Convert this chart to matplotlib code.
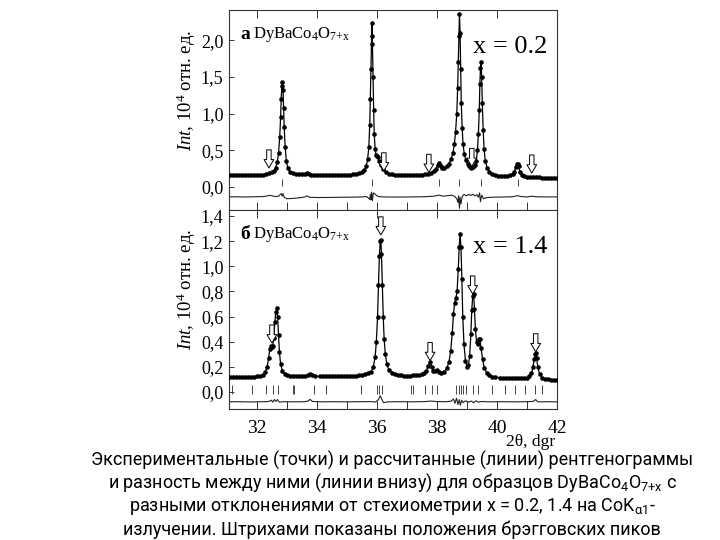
import numpy as np
import matplotlib
matplotlib.use("Agg")
import matplotlib.pyplot as plt
from matplotlib import font_manager
from matplotlib.ticker import FuncFormatter, MultipleLocator

# --- шрифты ---
names = {f.name for f in font_manager.fontManager.ttflist}
cap_font = 'Roboto' if 'Roboto' in names else 'Liberation Sans'
plt.rcParams['font.family'] = ['Liberation Serif', 'DejaVu Serif']
plt.rcParams['mathtext.fontset'] = 'custom'
plt.rcParams['mathtext.rm'] = 'Liberation Serif'
plt.rcParams['mathtext.it'] = 'Liberation Serif:italic'
plt.rcParams['mathtext.bf'] = 'Liberation Serif:bold'
plt.rcParams['mathtext.sf'] = cap_font

# --- данные: панель а (x = 0.2), (2theta, Int) ---
scan_a = [(31.1, .165), (31.2, .163), (31.3, .166), (31.4, .162), (31.5, .164), (31.6, .161),
          (31.7, .163), (31.8, .162), (31.9, .164), (32.0, .165), (32.1, .167), (32.2, .17),
          (32.3, .176), (32.4, .186), (32.5, .2), (32.56, .22), (32.62, .26), (32.68, .34),
          (32.72, .46), (32.76, .68), (32.79, .95), (32.81, 1.2), (32.83, 1.38), (32.85, 1.43),
          (32.87, 1.32), (32.89, 1.08), (32.91, .82), (32.94, .55), (32.98, .36), (33.03, .26),
          (33.1, .21), (33.2, .185), (33.3, .176), (33.4, .172), (33.5, .172), (33.6, .18),
          (33.66, .19), (33.72, .18), (33.8, .17), (33.9, .166), (34.0, .163), (34.1, .162),
          (34.2, .16), (34.3, .161), (34.4, .16), (34.5, .159), (34.6, .16), (34.7, .161),
          (34.8, .162), (34.9, .163), (35.0, .165), (35.1, .167), (35.2, .171), (35.3, .176),
          (35.4, .186), (35.5, .2), (35.58, .23), (35.64, .28), (35.69, .38), (35.73, .55),
          (35.76, .85), (35.78, 1.2), (35.80, 1.6), (35.82, 2.05), (35.83, 2.23), (35.85, 1.95),
          (35.87, 1.5), (35.89, 1.05), (35.91, .72), (35.94, .52), (35.97, .44), (36.0, .42),
          (36.03, .41), (36.07, .36), (36.12, .3), (36.2, .24), (36.3, .2), (36.4, .182),
          (36.5, .172), (36.6, .166), (36.7, .163), (36.8, .16), (36.9, .16), (37.0, .159),
          (37.1, .16), (37.2, .161), (37.3, .163), (37.4, .166), (37.5, .17), (37.6, .175),
          (37.7, .183), (37.8, .195), (37.9, .215), (37.98, .25), (38.03, .3), (38.08, .33),
          (38.13, .29), (38.18, .255), (38.25, .26), (38.33, .28), (38.4, .32), (38.47, .38),
          (38.53, .46), (38.58, .58), (38.62, .75), (38.66, 1.0), (38.69, 1.35), (38.71, 1.7),
          (38.73, 2.05), (38.75, 2.36), (38.77, 2.1), (38.79, 1.6), (38.81, 1.15), (38.84, .8),
          (38.87, .58), (38.91, .45), (38.96, .37), (39.02, .31), (39.08, .28), (39.14, .26),
          (39.2, .27), (39.26, .3), (39.31, .36), (39.35, .5), (39.38, .72), (39.41, 1.05),
          (39.43, 1.4), (39.45, 1.62), (39.47, 1.7), (39.49, 1.5), (39.51, 1.15), (39.54, .78),
          (39.57, .52), (39.61, .36), (39.67, .26), (39.75, .21), (39.85, .18), (39.95, .165),
          (40.05, .156), (40.15, .152), (40.25, .15), (40.35, .152), (40.45, .16), (40.52, .175),
          (40.58, .21), (40.63, .27), (40.66, .31), (40.69, .32), (40.72, .28), (40.76, .21),
          (40.82, .165), (40.9, .148), (41.0, .142), (41.1, .138), (41.2, .135), (41.3, .132),
          (41.4, .13), (41.5, .128), (41.6, .126), (41.7, .125), (41.8, .123), (41.9, .122),
          (42.0, .121)]

diff_a = [(31.07, -.135), (31.3, -.133), (31.6, -.136), (31.9, -.133), (32.2, -.13), (32.35, -.122),
          (32.42, -.112), (32.5, -.12), (32.62, -.13), (32.72, -.125), (32.78, -.1), (32.81, -.09),
          (32.84, -.125), (32.87, -.09), (32.91, -.14), (33.0, -.16), (33.2, -.155), (33.4, -.148),
          (33.6, -.135), (33.66, -.12), (33.75, -.14), (34.0, -.143), (34.4, -.142), (34.8, -.14),
          (35.2, -.138), (35.5, -.135), (35.65, -.13), (35.72, -.15), (35.76, -.17), (35.78, -.1),
          (35.8, -.175), (35.82, -.07), (35.85, -.185), (35.88, -.08), (35.92, -.09), (35.97, -.11),
          (36.05, -.13), (36.2, -.135), (36.5, -.137), (36.9, -.136), (37.3, -.134), (37.6, -.132),
          (37.9, -.125), (38.08, -.11), (38.2, -.125), (38.35, -.118), (38.5, -.112), (38.6, -.13),
          (38.66, -.16), (38.7, -.21), (38.72, -.12), (38.75, -.29), (38.77, -.14), (38.8, -.23),
          (38.84, -.13), (38.9, -.1), (38.98, -.12), (39.06, -.1), (39.13, -.115), (39.2, -.1),
          (39.27, -.12), (39.33, -.105), (39.38, -.14), (39.42, -.08), (39.45, -.2), (39.49, -.11),
          (39.55, -.16), (39.65, -.145), (39.8, -.14), (40.1, -.137), (40.5, -.133), (40.69, -.118),
          (40.8, -.13), (41.0, -.135), (41.16, -.125), (41.3, -.133), (41.6, -.135), (42.0, -.135)]

bragg_a = [32.82, 35.82, 38.08, 38.74, 39.46, 40.69]
arrows_a = [(32.4, .26), (36.23, .22), (37.73, .2), (39.16, .28), (41.16, .19)]

# --- данные: панель б (x = 1.4) ---
scan_b = [(31.1, .12), (31.2, .121), (31.3, .12), (31.4, .119), (31.5, .12), (31.6, .121),
          (31.7, .121), (31.8, .122), (31.9, .123), (32.0, .125), (32.1, .128), (32.2, .136),
          (32.28, .16), (32.34, .2), (32.39, .27), (32.43, .34), (32.47, .37), (32.5, .36),
          (32.53, .37), (32.56, .43), (32.6, .56), (32.63, .64), (32.66, .67), (32.69, .6),
          (32.72, .45), (32.75, .32), (32.79, .22), (32.85, .17), (32.92, .145), (33.0, .133),
          (33.1, .128), (33.2, .125), (33.3, .124), (33.4, .124), (33.5, .125), (33.6, .128),
          (33.7, .136), (33.77, .145), (33.85, .133), (33.95, .127), (34.1, .125), (34.2, .124),
          (34.3, .124), (34.4, .125), (34.5, .125), (34.6, .126), (34.7, .126), (34.8, .127),
          (34.9, .127), (35.0, .128), (35.1, .129), (35.2, .13), (35.3, .131), (35.4, .133),
          (35.5, .136), (35.6, .14), (35.7, .148), (35.8, .162), (35.88, .2), (35.94, .28),
          (35.98, .4), (36.02, .6), (36.05, .85), (36.08, 1.08), (36.11, 1.2), (36.13, 1.21),
          (36.15, 1.1), (36.18, .85), (36.21, .6), (36.24, .42), (36.28, .3), (36.33, .22),
          (36.4, .175), (36.5, .15), (36.6, .14), (36.7, .135), (36.8, .132), (36.9, .131),
          (37.0, .13), (37.1, .131), (37.2, .132), (37.3, .134), (37.4, .137), (37.5, .142),
          (37.58, .15), (37.65, .17), (37.71, .21), (37.77, .24), (37.83, .2), (37.88, .168),
          (37.94, .17), (38.0, .172), (38.07, .158), (38.15, .152), (38.25, .162), (38.33, .19),
          (38.4, .24), (38.46, .33), (38.51, .47), (38.55, .62), (38.59, .71), (38.63, .745),
          (38.67, .8), (38.71, .98), (38.74, 1.15), (38.77, 1.26), (38.8, 1.15), (38.83, .9),
          (38.86, .6), (38.9, .38), (38.95, .25), (39.0, .2), (39.05, .215), (39.09, .29),
          (39.13, .46), (39.16, .65), (39.19, .76), (39.22, .78), (39.25, .66), (39.28, .5),
          (39.32, .4), (39.36, .38), (39.4, .42), (39.43, .42), (39.47, .35), (39.52, .26),
          (39.58, .19), (39.66, .152), (39.75, .132), (39.85, .122), (39.95, .118), (40.1, .115),
          (40.2, .113), (40.3, .112), (40.4, .111), (40.5, .11), (40.6, .11), (40.7, .11),
          (40.8, .111), (40.9, .112), (41.0, .115), (41.08, .125), (41.15, .15), (41.2, .2),
          (41.24, .26), (41.27, .3), (41.29, .31), (41.32, .27), (41.36, .2), (41.42, .14),
          (41.5, .115), (41.6, .104), (41.7, .1), (41.8, .098), (41.9, .096), (42.0, .095)]

diff_b = [(31.07, -.078), (31.4, -.077), (31.8, -.079), (32.2, -.077), (32.4, -.075), (32.48, -.065),
          (32.53, -.08), (32.58, -.06), (32.63, -.075), (32.68, -.06), (32.75, -.08), (32.9, -.077),
          (33.3, -.078), (33.6, -.077), (33.72, -.07), (33.77, -.058), (33.85, -.075), (34.2, -.078),
          (34.6, -.077), (35.0, -.078), (35.4, -.077), (35.8, -.076), (35.95, -.08), (36.05, -.06),
          (36.11, -.03), (36.16, -.055), (36.22, -.085), (36.35, -.078), (36.8, -.077), (37.2, -.078),
          (37.6, -.076), (37.8, -.072), (38.0, -.076), (38.3, -.077), (38.48, -.072), (38.55, -.055),
          (38.6, -.09), (38.65, -.05), (38.7, -.1), (38.74, -.06), (38.78, -.105), (38.82, -.065),
          (38.87, -.085), (38.95, -.07), (39.05, -.08), (39.15, -.072), (39.22, -.085), (39.3, -.07),
          (39.38, -.08), (39.5, -.075), (39.7, -.078), (40.1, -.077), (40.6, -.078), (41.0, -.077),
          (41.2, -.075), (41.29, -.06), (41.36, -.078), (41.7, -.077), (42.0, -.078)]

bragg_b = [31.16, 31.84, 32.29, 32.54, 32.71, 33.19, 33.24, 33.91, 34.3, 35.47, 35.99, 36.07, 36.16,
           37.13, 37.19, 37.6, 37.82, 37.99, 38.63, 38.72, 38.8, 38.88, 38.96, 39.19, 39.38, 39.82,
           40.27, 40.6, 40.93, 41.27, 41.49]
arrows_b = [(32.5, .39), (36.13, 1.25), (37.77, .25), (39.19, .78), (41.29, .32)]

caption = [
    "Экспериментальные (точки) и рассчитанные (линии) рентгенограммы",
    r"и разность между ними (линии внизу) для образцов $\mathsf{DyBaCo_4O_{7{+}x}}$ с",
    r"разными отклонениями от стехиометрии x = 0.2, 1.4 на $\mathsf{CoK_{\alpha 1}}$-",
    "излучении. Штрихами показаны положения брэгговских пиков",
]

comma = FuncFormatter(lambda v, p: f"{v:.1f}".replace('.', ','))


def draw_panel(ax, scan, diff, bragg, bragg_y, arrows, arr_len, letter, xval, ylim, ystep, lab_y):
    tth, inten = np.array(scan).T
    dt, dv = np.array(diff).T
    ax.plot(tth, inten, color='black', lw=0.9, zorder=3)
    ax.plot(tth, inten, 'o', color='black', ms=3.3, mew=0, zorder=4)
    ax.plot(dt, dv, color='#222222', lw=0.8)
    ax.vlines(bragg, bragg_y[0], bragg_y[1], color='#444444', lw=0.7)
    for x, tip in arrows:
        ax.annotate("", xy=(x, tip), xytext=(0, arr_len), textcoords='offset points',
                    arrowprops=dict(arrowstyle="simple,head_length=0.6,head_width=0.7,tail_width=0.32",
                                    mutation_scale=10, fc='white', ec='black', lw=0.7,
                                    shrinkA=0, shrinkB=0), zorder=6)
    ax.set_xlim(31.07, 42)
    ax.set_ylim(*ylim)
    ax.yaxis.set_major_locator(MultipleLocator(ystep))
    ax.yaxis.set_major_formatter(comma)
    ax.xaxis.set_major_locator(MultipleLocator(2))
    ax.xaxis.set_minor_locator(MultipleLocator(1))
    ax.tick_params(axis='x', which='major', direction='in', length=5.5, width=0.7,
                   top=True, bottom=True, labelsize=14, pad=8, colors='#333333', labelcolor='black')
    ax.tick_params(axis='x', which='minor', direction='in', length=5.5, width=0.7,
                   top=False, bottom=True, colors='#333333')
    ax.tick_params(axis='y', direction='in', length=3.5, width=0.7, left=True, right=False,
                   labelsize=13, pad=4, colors='#333333', labelcolor='black')
    for s in ax.spines.values():
        s.set_color('#333333')
        s.set_linewidth(0.8)
    ax.text(31.45, lab_y, letter, fontsize=14, fontweight='bold', va='center', ha='left')
    ax.text(31.45 + 0.42, lab_y, r"DyBaCo$_4$O$_{7{+}\mathrm{x}}$", fontsize=12, va='center', ha='left')
    ax.text(39.2, lab_y - (ylim[1] - ylim[0]) * 0.06, xval, fontsize=19, va='center', ha='left')
    ax.text(-0.13, 0.6, r"$\mathit{Int}$, 10$^4$ отн. ед.", transform=ax.transAxes,
            rotation=90, fontsize=13.5, va='center', ha='center')


fig = plt.figure(figsize=(7.2, 5.4), dpi=100)
ax_a = fig.add_axes([229 / 720, 1 - 210 / 540, 328 / 720, 200 / 540])
ax_b = fig.add_axes([229 / 720, 1 - 409 / 540, 328 / 720, 199 / 540])

draw_panel(ax_a, scan_a, diff_a, bragg_a, (0.01, 0.105), arrows_a, 13, "а", "x = 0.2",
           (-0.313, 2.41), 0.5, 2.07)
draw_panel(ax_b, scan_b, diff_b, bragg_b, (-0.012, 0.058), arrows_b, 13, "б", "x = 1.4",
           (-0.135, 1.448), 0.2, 1.25)
ax_a.tick_params(axis='x', labelbottom=False)

fig.text(555 / 720, 1 - 442 / 540, "2θ, dgr", fontsize=12.5, ha='right', va='center')

for i, line in enumerate(caption):
    fig.text(392 / 720, 1 - (460 + 23.2 * i) / 540, line, fontsize=13, family=cap_font,
             ha='center', va='center')

fig.savefig("out.png", dpi=100)
